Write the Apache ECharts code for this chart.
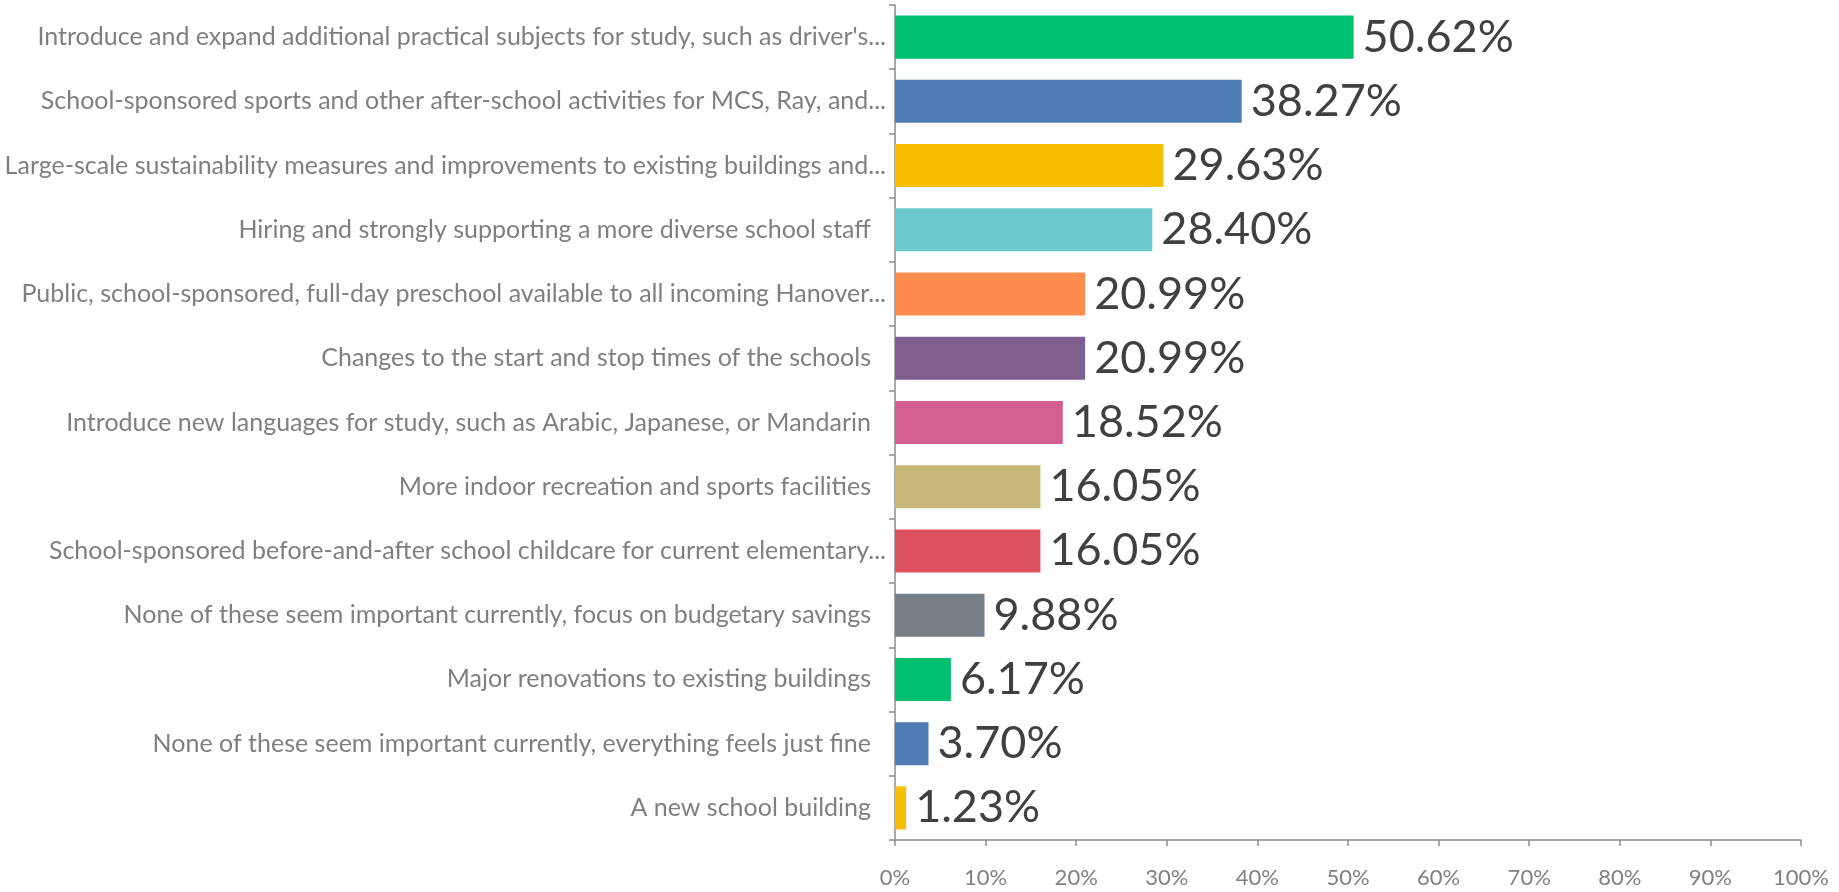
<!DOCTYPE html>
<html>
<head>
<meta charset="utf-8">
<script src="https://cdn.jsdelivr.net/npm/echarts@6/dist/echarts.min.js"></script>
<style>
  html, body { margin: 0; padding: 0; background: #fff; }
  #chart { width: 1839px; height: 892px; }
</style>
</head>
<body>
<div id="chart"></div>
<script>
// answer choices, top to bottom
const categories = [
  "Introduce and expand additional practical subjects for study, such as driver's...",
  "School-sponsored sports and other after-school activities for MCS, Ray, and...",
  "Large-scale sustainability measures and improvements to existing buildings and...",
  "Hiring and strongly supporting a more diverse school staff",
  "Public, school-sponsored, full-day preschool available to all incoming Hanover...",
  "Changes to the start and stop times of the schools",
  "Introduce new languages for study, such as Arabic, Japanese, or Mandarin",
  "More indoor recreation and sports facilities",
  "School-sponsored before-and-after school childcare for current elementary...",
  "None of these seem important currently, focus on budgetary savings",
  "Major renovations to existing buildings",
  "None of these seem important currently, everything feels just fine",
  "A new school building"
];
const percents = [50.62, 38.27, 29.63, 28.40, 20.99, 20.99, 18.52, 16.05, 16.05, 9.88, 6.17, 3.70, 1.23];
const barColors = ["#00bf6f", "#507cb6", "#f9be00", "#6bc8cd", "#ff8b4f", "#7f5f90",
                   "#d25f90", "#c7b879", "#dc5060", "#768086", "#00bf6f", "#507cb6", "#f9be00"];

const chart = echarts.init(document.getElementById("chart"));

chart.setOption({
  animation: false,
  grid: { left: 895, right: 38, top: 5, bottom: 52 },
  xAxis: {
    type: "value",
    min: 0,
    max: 100,
    interval: 10,
    axisLine: { show: true, lineStyle: { color: "#8c8c8c", width: 1.5 } },
    axisTick: { show: true, length: 6, lineStyle: { color: "#8c8c8c", width: 1.5 } },
    splitLine: { show: false },
    axisLabel: {
      formatter: "{value}%",
      color: "#808080",
      fontFamily: "Lato",
      fontSize: 22,
      margin: 27
    }
  },
  yAxis: {
    type: "category",
    inverse: true,
    data: categories,
    axisLine: { show: true, lineStyle: { color: "#8c8c8c", width: 1.5 } },
    axisTick: { show: true, length: 6, lineStyle: { color: "#8c8c8c", width: 1.5 } },
    axisLabel: {
      color: "#7f7f7f",
      fontFamily: "Lato",
      fontSize: 25,
      margin: 9,
      // full-length labels sit a bit further from the axis than the cut ones
      formatter: v => v.endsWith("...") ? v : "{p|" + v + "}",
      rich: {
        p: { color: "#7f7f7f", fontFamily: "Lato", fontSize: 25, padding: [0, 15, 0, 0] }
      }
    }
  },
  series: [{
    type: "bar",
    data: percents.map((v, i) => ({ value: v, itemStyle: { color: barColors[i] } })),
    barCategoryGap: "33%",
    label: {
      show: true,
      position: "right",
      distance: 9,
      color: "#404040",
      fontFamily: "Lato",
      fontSize: 45,
      formatter: p => p.value.toFixed(2) + "%"
    }
  }]
});
</script>
</body>
</html>
